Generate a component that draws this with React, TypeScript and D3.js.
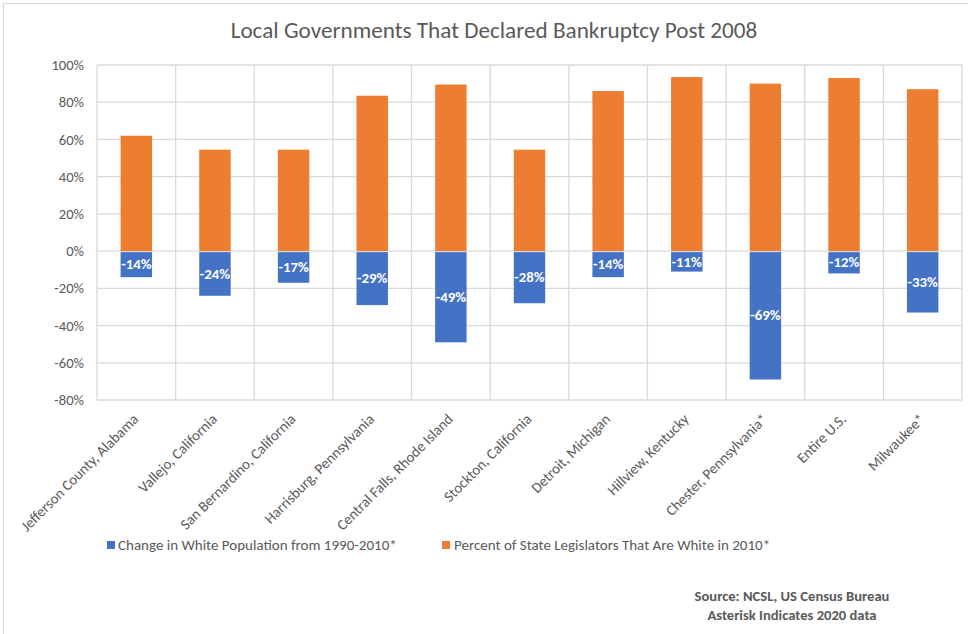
import React from "react";
import * as d3 from "d3";

const categories = [
  "Jefferson County, Alabama",
  "Vallejo, California",
  "San Bernardino, California",
  "Harrisburg, Pennsylvania",
  "Central Falls, Rhode Island",
  "Stockton, California",
  "Detroit, Michigan",
  "Hillview, Kentucky",
  "Chester, Pennsylvania*",
  "Entire U.S.",
  "Milwaukee*",
];
const popChange = [-14, -24, -17, -29, -49, -28, -14, -11, -69, -12, -33];
const whiteLegislators = [62, 54.5, 54.5, 83.5, 89.5, 54.5, 86, 93.5, 90, 93, 87];
const yTicks = [100, 80, 60, 40, 20, 0, -20, -40, -60, -80];
const seriesNames = [
  "Change in White Population from 1990-2010*",
  "Percent of State Legislators That Are White in 2010*",
];
const title = "Local Governments That Declared Bankruptcy Post 2008";
const sourceLines = ["Source: NCSL, US Census Bureau", "Asterisk Indicates 2020 data"];

const W = 968;
const H = 634;
const FONT = "Carlito, Calibri, Lato, 'Open Sans', sans-serif";
const TXT = "#595959";
const GRID = "#d9d9d9";
const BLUE = "#4472C4";
const ORANGE = "#ED7D31";

export default function App() {
  const left = 97;
  const right = 962;
  const top = 65;
  const bottom = 400;
  const x = d3.scaleBand<string>().domain(categories).range([left, right]).paddingInner(0).paddingOuter(0);
  const y = d3.scaleLinear().domain([-80, 100]).range([bottom, top]);
  const bw = x.bandwidth() * 0.4;
  const fmt = (v: number) => `${v}%`;

  return (
    <>
      <style>{`body{margin:0}`}</style>
      <svg width={W} height={H} style={{ display: "block", fontFamily: FONT }}>
        <rect x={0} y={0} width={W} height={H} fill="#fff" />
        <rect x={3.5} y={3.5} width={W + 10} height={H + 10} fill="none" stroke={GRID} strokeWidth={1} />
        <text x={494} y={38} textAnchor="middle" fontSize={23.2} fill={TXT}>
          {title}
        </text>
        {/* horizontal gridlines */}
        {yTicks.map((t) => (
          <line key={"h" + t} x1={left} x2={right} y1={y(t)} y2={y(t)} stroke={GRID} strokeWidth={1.3} />
        ))}
        {/* vertical gridlines */}
        {[...categories.map((c) => x(c) as number), right].map((vx, i) => (
          <line key={"v" + i} x1={vx} x2={vx} y1={top} y2={bottom} stroke={GRID} strokeWidth={1.3} />
        ))}
        {/* y labels */}
        {yTicks.map((t) => (
          <text key={"yl" + t} x={84} y={y(t)} dy="0.35em" textAnchor="end" fontSize={14.6} fill={TXT}>
            {fmt(t)}
          </text>
        ))}
        {/* orange bars */}
        {categories.map((c, i) => {
          const cx = (x(c) as number) + x.bandwidth() / 2;
          return (
            <rect key={"o" + i} x={cx - bw / 2} y={y(whiteLegislators[i])} width={bw} height={y(0) - y(whiteLegislators[i])} fill={ORANGE} />
          );
        })}
        {/* blue bars */}
        {categories.map((c, i) => {
          const cx = (x(c) as number) + x.bandwidth() / 2;
          return (
            <g key={"b" + i}>
              <rect x={cx - bw / 2} y={y(0) + 1} width={bw} height={y(popChange[i]) - y(0) - 1} fill={BLUE} />
              <text x={cx} y={(y(0) + y(popChange[i])) / 2} dy="0.35em" textAnchor="middle" fontSize={14.8} fontWeight="bold" fill="#fff">
                {fmt(popChange[i])}
              </text>
            </g>
          );
        })}
        {/* x labels */}
        {categories.map((c, i) => {
          const cx = (x(c) as number) + x.bandwidth() / 2 + 3;
          const ly = bottom + 20;
          return (
            <text key={"xl" + i} x={cx} y={ly} textAnchor="end" fontSize={14.8} fill={TXT} transform={`rotate(-45 ${cx} ${ly})`}>
              {c}
            </text>
          );
        })}
        {/* legend */}
        <rect x={107} y={541} width={8} height={8} fill={BLUE} />
        <text x={118} y={549.5} fontSize={15} fill={TXT}>
          {seriesNames[0]}
        </text>
        <rect x={442} y={541} width={8} height={8} fill={ORANGE} />
        <text x={454} y={549.5} fontSize={15} fill={TXT}>
          {seriesNames[1]}
        </text>
        {/* source */}
        {sourceLines.map((s, i) => (
          <text key={"s" + i} x={792} y={601 + i * 18.5} textAnchor="middle" fontSize={14.6} fontWeight="bold" fill={TXT}>
            {s}
          </text>
        ))}
      </svg>
    </>
  );
}
